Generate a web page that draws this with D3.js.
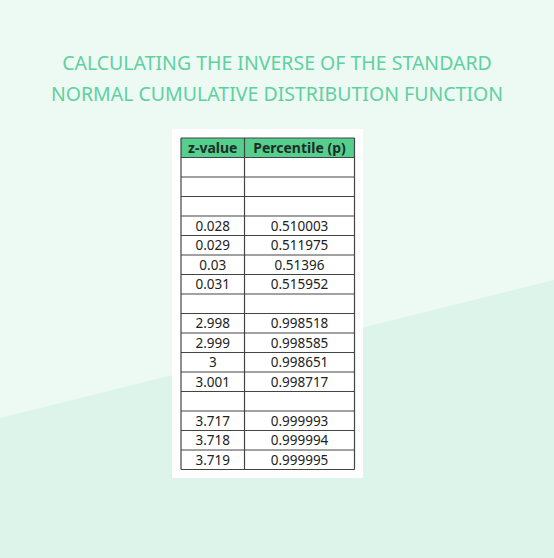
<!DOCTYPE html><html><head><meta charset="utf-8"><script src="https://cdn.jsdelivr.net/npm/d3@7"></script>
<style>body{margin:0}</style></head><body><script>
const headers=["z-value","Percentile (p)"];
const zValues=["","","","0.028","0.029","0.03","0.031","","2.998","2.999","3","3.001","","3.717","3.718","3.719"];
const pValues=["","","","0.510003","0.511975","0.51396","0.515952","","0.998518","0.998585","0.998651","0.998717","","0.999993","0.999994","0.999995"];
const titleLines=["CALCULATING THE INVERSE OF THE STANDARD","NORMAL CUMULATIVE DISTRIBUTION FUNCTION"];
const W=554,H=558;
const svg=d3.select("body").append("svg").attr("width",W).attr("height",H);
svg.append("rect").attr("width",W).attr("height",H).attr("fill","#ecfaf3");
svg.append("path").attr("d",`M0,418 L554,280 L554,558 L0,558Z`).attr("fill","#dcf4ea");
svg.selectAll(".t").data(titleLines).join("text").attr("x",W/2).attr("y",(d,i)=>70+i*31)
 .attr("text-anchor","middle").attr("font-family","Noto Sans").attr("font-size",19.5).attr("fill","#5fd0a0").text(d=>d);
svg.append("rect").attr("x",172).attr("y",129).attr("width",191).attr("height",349).attr("fill","#fff");
const x=d3.scaleOrdinal().domain([0,1,2]).range([181,244.5,354.5]);
const rows=zValues.map((z,i)=>[z,pValues[i]]);
const y=d3.scaleLinear().domain([0,rows.length+1]).range([138,138+19.5*(rows.length+1)]);
svg.append("rect").attr("x",x(0)).attr("y",y(0)).attr("width",x(2)-x(0)).attr("height",y(1)-y(0)).attr("fill","#54cf8e");
const g=svg.append("g").attr("stroke","#444").attr("stroke-width",1.2);
d3.range(rows.length+2).forEach(i=>g.append("line").attr("x1",x(0)).attr("x2",x(2)).attr("y1",y(i)).attr("y2",y(i)));
[0,1,2].forEach(j=>g.append("line").attr("x1",x(j)).attr("x2",x(j)).attr("y1",y(0)).attr("y2",y(rows.length+1)));
const cx=j=>(x(j)+x(j+1))/2;
headers.forEach((h,j)=>svg.append("text").attr("x",cx(j)).attr("y",y(0.5)+5).attr("text-anchor","middle")
 .attr("font-family","Noto Sans").attr("font-weight","bold").attr("font-size",14).attr("fill","#1f2d27").text(h));
rows.forEach((r,i)=>r.forEach((v,j)=>svg.append("text").attr("x",cx(j)).attr("y",y(i+1.5)+5).attr("text-anchor","middle")
 .attr("font-family","Noto Sans").attr("font-size",13.5).attr("fill","#222").text(v)));
</script></body></html>
